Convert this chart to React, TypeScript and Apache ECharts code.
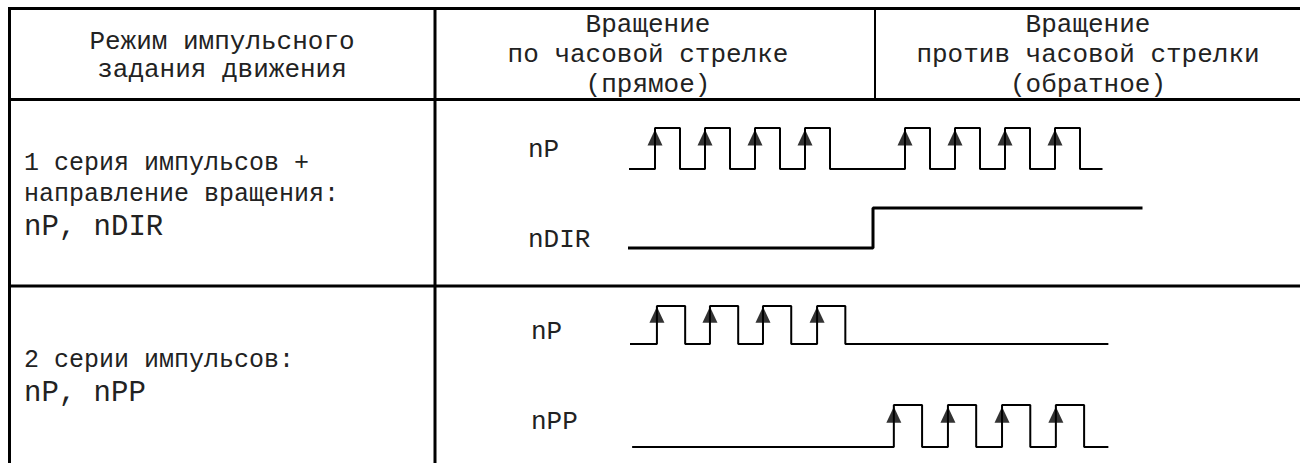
import React, { useEffect, useRef } from "react";
import * as echarts from "echarts";

// ---- texts ----
const headerCol1 = ["Режим импульсного", "задания движения"];
const headerCol2 = ["Вращение", "по часовой стрелке", "(прямое)"];
const headerCol3 = ["Вращение", "против часовой стрелки", "(обратное)"];
const row1Text = ["1 серия импульсов +", "направление вращения:"];
const row1Signals = "nP, nDIR";
const row2Text = ["2 серии импульсов:"];
const row2Signals = "nP, nPP";
const row1Labels = ["nP", "nDIR"];
const row2Labels = ["nP", "nPP"];

// ---- waveforms (time units) ----
const r1PulseRises = [1, 3, 5, 7, 11, 13, 15, 17];
const r1PulseWidth = 1;
const r1PulseStart = -0.08;
const r1PulseEnd = 18.9;
const r1DirStart = -0.08;
const r1DirRise = 9.72;
const r1DirEnd = 20.5;
const r1Span = 21;

const r2PRises = [1.01, 3.0, 4.99, 7.02];
const r2PPRises = [9.9, 11.93, 13.96, 15.98];
const r2PulseWidth = 1.06;
const r2PStart = 0;
const r2PPStart = 0.08;
const r2End = 17.95;
const r2Span = 18;

const arrowLevel = 0.77;

function buildPulses(rises: number[], width: number, start: number, end: number) {
  const pts: number[][] = [[start, 0]];
  rises.forEach((r) => {
    pts.push([r, 0], [r, 1], [r + width, 1], [r + width, 0]);
  });
  pts.push([end, 0]);
  return pts;
}

function buildStep(start: number, rise: number, end: number) {
  return [
    [start, 0],
    [rise, 0],
    [rise, 1],
    [end, 1],
  ];
}

const FONT = '"Liberation Mono", "Courier New", monospace';

function txt(text: string, x: number, y: number, size: number, align: string) {
  return {
    type: "text",
    x,
    y,
    silent: true,
    style: {
      text,
      font: `normal ${size}px ${FONT}`,
      fill: "#222",
      textAlign: align,
      textVerticalAlign: "middle",
      align,
      verticalAlign: "middle",
    },
  };
}

function bar(x: number, y: number, w: number, h: number) {
  return { type: "rect", silent: true, shape: { x, y, width: w, height: h }, style: { fill: "#000" } };
}

export default function App() {
  const ref = useRef<HTMLDivElement>(null);
  useEffect(() => {
    if (!ref.current) return;
    const chart = echarts.init(ref.current, undefined, { renderer: "svg" });

    const grids = [
      { left: 630, top: 128, width: r1Span * 25, height: 41 },
      { left: 630, top: 208, width: r1Span * 25, height: 40 },
      { left: 630, top: 306, width: r2Span * 26.65, height: 38 },
      { left: 630, top: 405, width: r2Span * 26.65, height: 42 },
    ];
    const spans = [r1Span, r1Span, r2Span, r2Span];

    const lineSeries = (idx: number, data: number[][], w: number) => ({
      type: "line",
      xAxisIndex: idx,
      yAxisIndex: idx,
      data,
      symbol: "none",
      clip: false,
      lineStyle: { color: "#000", width: w },
      silent: true,
    });
    const arrowSeries = (idx: number, rises: number[]) => ({
      type: "scatter",
      xAxisIndex: idx,
      yAxisIndex: idx,
      data: rises.map((r) => [r, arrowLevel]),
      symbol: "triangle",
      symbolSize: [15, 16],
      itemStyle: { color: "#000" },
      clip: false,
      silent: true,
    });

    const graphics: any[] = [
      bar(8, 7, 1292, 3),
      bar(8, 7, 3, 456),
      bar(433.5, 7, 3, 456),
      bar(874, 7, 2, 93),
      bar(8, 98, 1292, 3),
      bar(8, 284.5, 1292, 3),
    ];
    headerCol1.forEach((t, i) => graphics.push(txt(t, 222, 42 + i * 28, 26, "center")));
    headerCol2.forEach((t, i) => graphics.push(txt(t, 648, 25 + i * 30, 26, "center")));
    headerCol3.forEach((t, i) => graphics.push(txt(t, 1088, 25 + i * 30, 26, "center")));
    row1Text.forEach((t, i) => graphics.push(txt(t, 24, 163 + i * 31, 25, "left")));
    graphics.push(txt(row1Signals, 24, 227, 29, "left"));
    row2Text.forEach((t, i) => graphics.push(txt(t, 24, 360 + i * 31, 25, "left")));
    graphics.push(txt(row2Signals, 24, 393, 29, "left"));
    graphics.push(txt(row1Labels[0], 528, 150, 26, "left"));
    graphics.push(txt(row1Labels[1], 528, 240, 26, "left"));
    graphics.push(txt(row2Labels[0], 531, 332, 26, "left"));
    graphics.push(txt(row2Labels[1], 531, 422, 26, "left"));

    chart.setOption({
      animation: false,
      backgroundColor: "#fff",
      grid: grids,
      xAxis: grids.map((_, i) => ({ type: "value", gridIndex: i, min: 0, max: spans[i], show: false })),
      yAxis: grids.map((_, i) => ({ type: "value", gridIndex: i, min: 0, max: 1, show: false })),
      series: [
        lineSeries(0, buildPulses(r1PulseRises, r1PulseWidth, r1PulseStart, r1PulseEnd), 2),
        arrowSeries(0, r1PulseRises),
        lineSeries(1, buildStep(r1DirStart, r1DirRise, r1DirEnd), 3),
        lineSeries(2, buildPulses(r2PRises, r2PulseWidth, r2PStart, r2End), 2),
        arrowSeries(2, r2PRises),
        lineSeries(3, buildPulses(r2PPRises, r2PulseWidth, r2PPStart, r2End), 2),
        arrowSeries(3, r2PPRises),
      ],
      graphic: { elements: graphics },
    });
    return () => chart.dispose();
  }, []);
  return (
    <div
      ref={ref}
      style={{ position: "fixed", left: 0, top: 0, width: 1300, height: 463, background: "#fff" }}
    />
  );
}
